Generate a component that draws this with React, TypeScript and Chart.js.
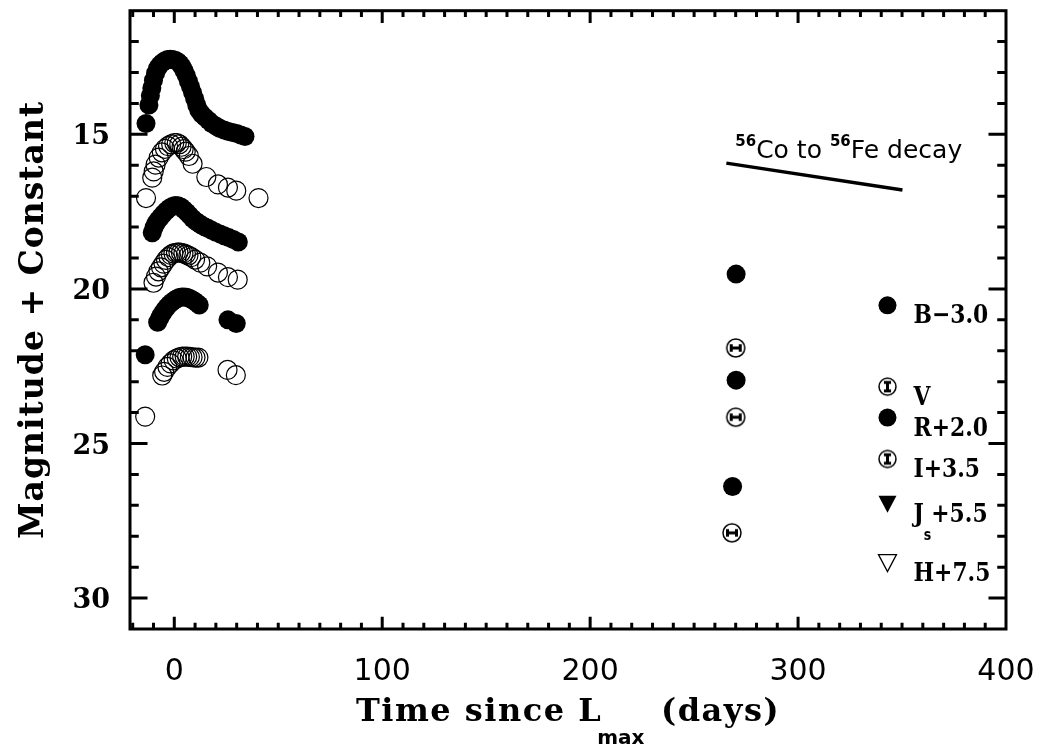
import React, { useEffect, useRef } from 'react';
import { Chart, registerables } from 'chart.js';

Chart.register(...registerables);

// ---- axes ----
const X_MIN = -21.3;
const X_MAX = 400;
const Y_MIN = 11;
const Y_MAX = 31;
const X_TICKS = [0, 100, 200, 300, 400];
const Y_TICKS = [15, 20, 25, 30];
const X_MINOR_STEP = 10;
const Y_MINOR_STEP = 1;

// ---- early light curves (days since Lmax, magnitude + constant) ----
const B_T = [-13.6, -12.2, -11.5, -10.8, -10.0, -9.0, -8.0, -7.0, -5.8, -4.5, -3.2, -2.0, -0.8, 0.5, 1.7, 2.8, 3.8, 4.8, 5.8, 6.8, 7.8, 8.8, 9.8, 10.8, 11.8, 13.2, 14.8, 16.5, 18.0, 20.0, 22.0, 24.0, 26.0, 28.0, 30.0, 32.0, 34.0];
const B_MAG = [14.65, 14.05, 13.75, 13.5, 13.25, 13.02, 12.86, 12.76, 12.68, 12.62, 12.58, 12.57, 12.58, 12.6, 12.65, 12.72, 12.82, 12.95, 13.1, 13.28, 13.46, 13.65, 13.85, 14.05, 14.22, 14.35, 14.45, 14.55, 14.65, 14.73, 14.81, 14.86, 14.91, 14.94, 14.97, 15.02, 15.07];

const V_T = [-13.6, -10.6, -9.9, -9.0, -7.5, -6.0, -4.5, -3.0, -1.5, 0.0, 1.2, 2.4, 3.5, 4.5, 5.5, 7.0, 8.8, 15.4, 21.0, 25.8, 29.8, 40.5];
const V_MAG = [17.06, 16.4, 16.2, 15.98, 15.75, 15.58, 15.47, 15.38, 15.32, 15.28, 15.28, 15.32, 15.4, 15.48, 15.56, 15.7, 15.95, 16.38, 16.62, 16.72, 16.82, 17.06];

const R_T = [-10.6, -9.8, -9.0, -7.8, -6.6, -5.2, -3.8, -2.4, -1.0, 0.4, 1.8, 3.2, 4.6, 6.0, 7.4, 8.8, 10.2, 11.6, 13.0, 14.6, 16.2, 18.0, 20.0, 22.0, 24.0, 26.2, 28.4, 30.8];
const R_MAG = [18.18, 18.02, 17.9, 17.78, 17.68, 17.57, 17.47, 17.39, 17.33, 17.3, 17.31, 17.35, 17.43, 17.52, 17.62, 17.72, 17.8, 17.87, 17.93, 17.99, 18.04, 18.1, 18.17, 18.22, 18.28, 18.34, 18.4, 18.48];

const I_T = [-10.0, -8.8, -7.6, -6.4, -5.2, -4.0, -2.8, -1.6, -0.4, 0.8, 2.0, 3.2, 4.4, 5.6, 6.8, 8.2, 10.0, 12.5, 15.8, 21.0, 25.8, 30.5];
const I_MAG = [19.8, 19.6, 19.43, 19.3, 19.18, 19.06, 18.97, 18.9, 18.85, 18.83, 18.82, 18.83, 18.85, 18.88, 18.92, 18.97, 19.05, 19.15, 19.27, 19.47, 19.62, 19.7];

const J_T = [-14.0, -8.0, -7.0, -6.0, -4.8, -3.6, -2.4, -1.2, 0.0, 1.2, 2.4, 3.6, 4.8, 6.0, 7.2, 8.4, 9.6, 10.8, 12.0, 25.8, 29.8];
const J_MAG = [22.13, 21.08, 20.94, 20.82, 20.7, 20.59, 20.5, 20.43, 20.37, 20.32, 20.28, 20.26, 20.26, 20.27, 20.3, 20.34, 20.39, 20.45, 20.52, 21.0, 21.12];

const H_T = [-14.0, -5.8, -4.9, -3.3, -1.8, -0.3, 1.2, 2.5, 3.8, 5.0, 6.2, 7.5, 8.8, 10.2, 11.6, 25.6, 29.6];
const H_MAG = [24.13, 22.8, 22.68, 22.52, 22.41, 22.31, 22.25, 22.21, 22.19, 22.19, 22.19, 22.2, 22.21, 22.22, 22.22, 22.62, 22.79];

// ---- late-time points (B, V, R, I, J, H order) ----
const LATE_FILLED_T = [270.2, 270.2, 268.5];
const LATE_FILLED_MAG = [19.52, 22.95, 26.39];
const LATE_ERR_T = [270.0, 270.0, 268.2];
const LATE_ERR_MAG = [21.91, 24.15, 27.89];

// ---- 56Co -> 56Fe decay slope ----
const DECAY_T = [265.5, 350.2];
const DECAY_MAG = [15.93, 16.8];
const DECAY_LABEL_POS = [269.8, 15.77];

// ---- legend ----
const LEGEND_T = 343;
const LEGEND_MAG = [20.53, 23.16, 24.16, 25.5, 26.95, 28.85];
const LEGEND_KIND = ['filled', 'err', 'filled', 'err', 'tri', 'otri'];
const LEGEND_MAIN = ['B', 'V', 'R', 'I', 'J', 'H'];
const LEGEND_SUB = ['', '', '', '', 's', ''];
const LEGEND_REST = ['\u22123.0', '', '+2.0', '+3.5', '+5.5', '+7.5'];

const pts = (t: number[], m: number[]) => t.map((v, i) => ({ x: v, y: m[i] }));

function makeErrSymbol(r: number, vertical: boolean): HTMLCanvasElement {
  const c = document.createElement('canvas');
  const s = Math.ceil(2 * r + 4);
  c.width = s;
  c.height = s;
  const g = c.getContext('2d')!;
  const cx = s / 2;
  const cy = s / 2;
  g.strokeStyle = '#000';
  g.lineWidth = 1.5;
  g.beginPath();
  g.arc(cx, cy, r, 0, Math.PI * 2);
  g.stroke();
  g.lineWidth = 3;
  const L = r * 0.5;
  const C = r * 0.42;
  g.beginPath();
  if (vertical) {
    g.moveTo(cx, cy - L); g.lineTo(cx, cy + L);
    g.moveTo(cx - C, cy - L); g.lineTo(cx + C, cy - L);
    g.moveTo(cx - C, cy + L); g.lineTo(cx + C, cy + L);
  } else {
    g.moveTo(cx - L, cy); g.lineTo(cx + L, cy);
    g.moveTo(cx - L, cy - C); g.lineTo(cx - L, cy + C);
    g.moveTo(cx + L, cy - C); g.lineTo(cx + L, cy + C);
  }
  g.stroke();
  return c;
}

const SERIF_B = (px: number) => `bold ${px}px "DejaVu Serif"`;
const SANS = (px: number) => `${px}px "DejaVu Sans"`;
const SANS_B = (px: number) => `bold ${px}px "DejaVu Sans"`;

type Part = { text: string; font: string; dy: number; spacing: number; dx?: number };

function measureParts(ctx: CanvasRenderingContext2D, parts: Part[]) {
  let w = 0;
  for (const p of parts) {
    ctx.font = p.font;
    (ctx as any).letterSpacing = `${p.spacing}px`;
    w += ctx.measureText(p.text).width + (p.dx || 0);
  }
  (ctx as any).letterSpacing = '0px';
  return w;
}

function drawParts(ctx: CanvasRenderingContext2D, parts: Part[], x: number, y: number, sx = 1) {
  ctx.save();
  ctx.translate(x, y);
  ctx.scale(sx, 1);
  let cx = 0;
  for (const p of parts) {
    ctx.font = p.font;
    (ctx as any).letterSpacing = `${p.spacing}px`;
    cx += p.dx || 0;
    ctx.fillText(p.text, cx, p.dy);
    cx += ctx.measureText(p.text).width;
  }
  (ctx as any).letterSpacing = '0px';
  ctx.restore();
}

const framePlugin = {
  id: 'idlFrame',
  afterDraw(chart: any) {
    const { ctx, chartArea } = chart;
    const { left, right, top, bottom } = chartArea;
    const xs = chart.scales.x;
    const ys = chart.scales.y;
    ctx.save();
    ctx.strokeStyle = '#000';
    ctx.fillStyle = '#000';
    ctx.lineWidth = 3;
    ctx.lineCap = 'butt';
    ctx.strokeRect(left, top, right - left, bottom - top);

    const xMaj = 0.02 * (bottom - top);
    const yMaj = 0.02 * (right - left);
    ctx.beginPath();
    for (let v = Math.ceil(X_MIN / X_MINOR_STEP) * X_MINOR_STEP; v < X_MAX; v += X_MINOR_STEP) {
      const px = xs.getPixelForValue(v);
      const len = X_TICKS.includes(v) ? xMaj : xMaj / 2;
      ctx.moveTo(px, bottom); ctx.lineTo(px, bottom - len);
      ctx.moveTo(px, top); ctx.lineTo(px, top + len);
    }
    for (let v = Y_MIN + Y_MINOR_STEP; v < Y_MAX; v += Y_MINOR_STEP) {
      const py = ys.getPixelForValue(v);
      const len = Y_TICKS.includes(v) ? yMaj : yMaj / 2;
      ctx.moveTo(left, py); ctx.lineTo(left + len, py);
      ctx.moveTo(right, py); ctx.lineTo(right - len, py);
    }
    ctx.stroke();

    // tick labels
    ctx.font = SANS(30);
    ctx.textAlign = 'center';
    ctx.textBaseline = 'alphabetic';
    for (const v of X_TICKS) {
      ctx.fillText(String(v), xs.getPixelForValue(v), bottom + 51);
    }
    ctx.font = SERIF_B(27);
    ctx.textAlign = 'right';
    for (const v of Y_TICKS) {
      ctx.fillText(String(v), left - 20, ys.getPixelForValue(v) + 10);
    }

    // x title
    ctx.textAlign = 'left';
    const xParts: Part[] = [
      { text: 'Time since L', font: SERIF_B(32), dy: 0, spacing: 1.5 },
      { text: 'max', font: SANS_B(20), dy: 23, spacing: 0, dx: -5 },
      { text: ' (days)', font: SERIF_B(32), dy: 0, spacing: 1.5, dx: 4 },
    ];
    const xw = measureParts(ctx, xParts);
    drawParts(ctx, xParts, (left + right) / 2 - xw / 2, bottom + 92);

    // y title
    const yParts: Part[] = [{ text: 'Magnitude + Constant', font: SERIF_B(33), dy: 0, spacing: 1 }];
    const yw = measureParts(ctx, yParts);
    ctx.save();
    ctx.translate(43, (top + bottom) / 2);
    ctx.rotate(-Math.PI / 2);
    drawParts(ctx, yParts, -yw / 2, 0);
    ctx.restore();

    // decay label
    const dx = xs.getPixelForValue(DECAY_LABEL_POS[0]);
    const dy = ys.getPixelForValue(DECAY_LABEL_POS[1]);
    drawParts(ctx, [
      { text: '56', font: SANS_B(15), dy: -12, spacing: 0 },
      { text: 'Co to ', font: SANS(25), dy: 0, spacing: 0 },
      { text: '56', font: SANS_B(15), dy: -12, spacing: 0 },
      { text: 'Fe decay', font: SANS(25), dy: 0, spacing: 0 },
    ], dx, dy);

    // legend
    const lx = xs.getPixelForValue(LEGEND_T);
    const errV = makeErrSymbol(8.5, true);
    LEGEND_MAG.forEach((m, i) => {
      const ly = ys.getPixelForValue(m);
      const kind = LEGEND_KIND[i];
      ctx.lineWidth = 1.3;
      if (kind === 'filled') {
        ctx.beginPath(); ctx.arc(lx, ly, 9, 0, Math.PI * 2); ctx.fill();
      } else if (kind === 'err') {
        ctx.drawImage(errV, lx - errV.width / 2, ly - errV.height / 2);
      } else {
        ctx.beginPath();
        ctx.moveTo(lx - 9, ly - 8); ctx.lineTo(lx + 9, ly - 8); ctx.lineTo(lx, ly + 9); ctx.closePath();
        if (kind === 'tri') ctx.fill(); else ctx.stroke();
      }
      const parts: Part[] = [{ text: LEGEND_MAIN[i], font: SERIF_B(26), dy: 0, spacing: 0 }];
      if (LEGEND_SUB[i]) parts.push({ text: LEGEND_SUB[i], font: SANS_B(15), dy: 18, spacing: 0 });
      if (LEGEND_REST[i]) parts.push({ text: LEGEND_REST[i], font: SERIF_B(26), dy: 0, spacing: 0 });
      drawParts(ctx, parts, lx + 26, ly + 18, 0.84);
    });
    ctx.restore();
  },
};

export default function App() {
  const ref = useRef<HTMLCanvasElement | null>(null);
  useEffect(() => {
    document.body.style.margin = '0';
    const canvas = ref.current!;
    const errH = makeErrSymbol(9, false);
    const filled = (t: number[], m: number[]) => ({
      data: pts(t, m), pointStyle: 'circle' as const, pointRadius: 9.5, pointBackgroundColor: '#000',
      pointBorderColor: '#000', pointBorderWidth: 0, showLine: false,
    });
    const open = (t: number[], m: number[]) => ({
      data: pts(t, m), pointStyle: 'circle' as const, pointRadius: 9.5, pointBackgroundColor: 'rgba(0,0,0,0)',
      pointBorderColor: '#000', pointBorderWidth: 1.2, showLine: false,
    });
    const chart = new Chart(canvas, {
      type: 'scatter',
      data: {
        datasets: [
          { label: 'B-3.0', ...filled(B_T, B_MAG) },
          { label: 'V', ...open(V_T, V_MAG) },
          { label: 'R+2.0', ...filled(R_T, R_MAG) },
          { label: 'I+3.5', ...open(I_T, I_MAG) },
          { label: 'Js+5.5', ...filled(J_T, J_MAG) },
          { label: 'H+7.5', ...open(H_T, H_MAG) },
          { label: 'late filled', ...filled(LATE_FILLED_T, LATE_FILLED_MAG) },
          {
            label: 'late err', data: pts(LATE_ERR_T, LATE_ERR_MAG), pointStyle: errH as any,
            pointRadius: 9, showLine: false,
          },
          {
            label: 'decay', data: pts(DECAY_T, DECAY_MAG), showLine: true, borderColor: '#000',
            borderWidth: 3.5, pointRadius: 0,
          },
        ] as any,
      },
      options: {
        animation: false,
        responsive: false,
        events: [],
        layout: { padding: { left: 0, right: 39, top: 7, bottom: 0 } },
        plugins: { legend: { display: false }, tooltip: { enabled: false } },
        scales: {
          x: {
            type: 'linear', min: X_MIN, max: X_MAX,
            grid: { display: false, drawTicks: false }, border: { display: false },
            ticks: { display: false },
            afterFit: (s: any) => { s.height = 124; },
          },
          y: {
            type: 'linear', min: Y_MIN, max: Y_MAX, reverse: true,
            grid: { display: false, drawTicks: false }, border: { display: false },
            ticks: { display: false },
            afterFit: (s: any) => { s.width = 130; },
          },
        },
      } as any,
      plugins: [framePlugin],
    });
    return () => chart.destroy();
  }, []);
  return (
    <div style={{ width: 1045, height: 753, background: '#fff' }}>
      <canvas ref={ref} width={1045} height={753} style={{ display: 'block' }} />
    </div>
  );
}
